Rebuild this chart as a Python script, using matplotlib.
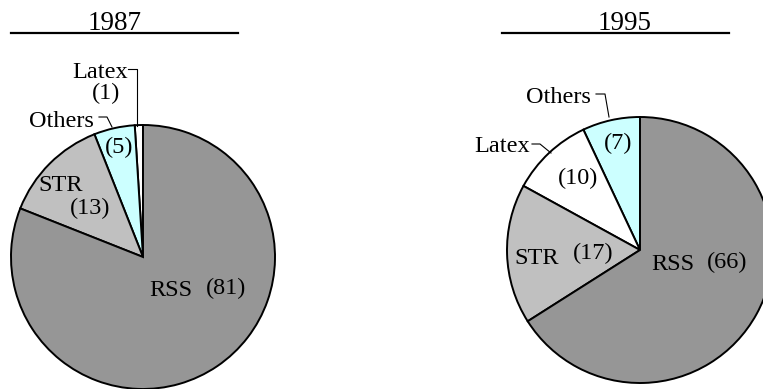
import matplotlib
matplotlib.use("Agg")
import matplotlib.pyplot as plt

plt.rcParams['font.family'] = ['Liberation Serif', 'DejaVu Serif']

# Shares of each category (percent), listed counter-clockwise from 12 o'clock
years = ["1987", "1995"]
cats_1987 = ["Latex", "Others", "STR", "RSS"]
vals_1987 = [1, 5, 13, 81]
cats_1995 = ["Others", "Latex", "STR", "RSS"]
vals_1995 = [7, 10, 17, 66]

colors = {"RSS": "#969696", "STR": "#c0c0c0", "Others": "#ccffff", "Latex": "#ffffff"}

W, H = 763, 389
fig = plt.figure(figsize=(W / 100, H / 100), dpi=100)


def pie_axes(cx, cy, r):
    """Axes whose unit circle sits at pixel centre (cx, cy) with radius r."""
    ax = fig.add_axes([(cx - r) / W, (H - cy - r) / H, 2 * r / W, 2 * r / H])
    ax.set_xlim(-1, 1)
    ax.set_ylim(-1, 1)
    ax.axis("off")
    return ax


def draw_pie(ax, cats, vals):
    ax.pie(vals, colors=[colors[c] for c in cats], startangle=90, counterclock=True,
           radius=1, center=(0, 0), frame=False,
           wedgeprops=dict(edgecolor="black", linewidth=1.4))
    ax.set_xlim(-1, 1)
    ax.set_ylim(-1, 1)
    ax.set_aspect("auto")


ax1 = pie_axes(143, 257, 132)
draw_pie(ax1, cats_1987, vals_1987)
ax2 = pie_axes(640, 250, 133)
draw_pie(ax2, cats_1995, vals_1995)

# Overlay in pixel coordinates for titles, labels and leader lines
ov = fig.add_axes([0, 0, 1, 1], zorder=5)
ov.set_xlim(0, W)
ov.set_ylim(H, 0)
ov.axis("off")

fs = 17.5
kw = dict(fontsize=fs, ha="center", va="center", color="black")

# Titles with rules underneath
ov.text(115, 29.5, years[0], fontsize=19.5, ha="center", va="baseline")
ov.plot([11, 238], [33, 33], color="black", lw=1.6)
ov.text(625, 29.5, years[1], fontsize=19.5, ha="center", va="baseline")
ov.plot([502, 729], [33, 33], color="black", lw=1.6)

v87 = dict(zip(cats_1987, vals_1987))
v95 = dict(zip(cats_1995, vals_1995))

# 1987 labels
ov.text(100, 72, "Latex", **kw)
ov.text(106, 93, f"({v87['Latex']})", **kw)
ov.plot([128, 137, 137], [69, 69, 126], color="black", lw=0.8)
ov.text(61, 121, "Others", **kw)
ov.plot([99, 107, 112], [117, 117, 127], color="black", lw=0.8)
ov.text(119, 147, f"({v87['Others']})", **kw)
ov.text(61, 185, "STR", **kw)
ov.text(90, 208, f"({v87['STR']})", **kw)
ov.text(171, 290, "RSS", **kw)
ov.text(226, 288, f"({v87['RSS']})", **kw)

# 1995 labels
ov.text(558, 97, "Others", **kw)
ov.plot([596, 605, 609], [94, 94, 117], color="black", lw=0.8)
ov.text(618, 143, f"({v95['Others']})", **kw)
ov.text(502, 146, "Latex", **kw)
ov.plot([532, 540, 551], [144, 144, 153], color="black", lw=0.8)
ov.text(578, 178, f"({v95['Latex']})", **kw)
ov.text(537, 258, "STR", **kw)
ov.text(593, 253, f"({v95['STR']})", **kw)
ov.text(673, 265, "RSS", **kw)
ov.text(727, 262, f"({v95['RSS']})", **kw)

fig.savefig("out.png", dpi=100, facecolor="white")
